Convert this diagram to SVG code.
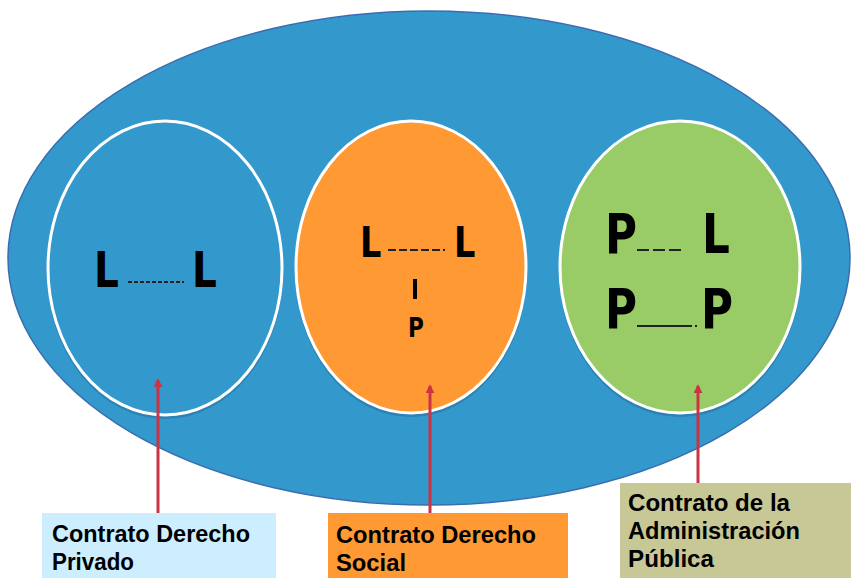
<svg xmlns="http://www.w3.org/2000/svg" width="851" height="578" viewBox="0 0 851 578">
  <style>
    .inner { stroke: #ffffff; stroke-width: 3; }
    .shadow { fill: #2b7fb0; opacity: 0.9; }
    .big { font-family: "DejaVu Sans", "Liberation Sans", sans-serif; font-weight: bold; fill: #000; }
    .lab { font-family: "Liberation Sans", "DejaVu Sans", sans-serif; font-weight: bold; font-size: 23px; fill: #000; }
    .conn { stroke: #cc3344; stroke-width: 3; fill: none; marker-end: url(#ah); }
    .dash { stroke: #222; stroke-width: 2; stroke-dasharray: 5 2; }
  </style>
  <defs>
    <marker id="ah" viewBox="0 0 10 10" refX="8" refY="5" markerWidth="3" markerHeight="3" orient="auto">
      <path d="M0,0 L10,5 L0,10 z" fill="#cc3344"/>
    </marker>
  </defs>
  <rect width="851" height="578" fill="#ffffff"/>

  <g id="outer">
    <ellipse cx="429" cy="258" rx="421" ry="247" fill="#3399cc" stroke="#3a6db0" stroke-width="1.5"/>
  </g>

  <g id="privado">
    <ellipse class="shadow" cx="165" cy="272" rx="118" ry="147"/>
    <ellipse class="inner" cx="165" cy="268" rx="117" ry="147" fill="#3399cc"/>
    <text class="big" transform="translate(94,287) scale(0.78,1)" font-size="50">L</text>
    <line class="dash" x1="128" y1="282" x2="184" y2="282" style="stroke-dasharray:4 2"/>
    <text class="big" transform="translate(192,287) scale(0.78,1)" font-size="50">L</text>
  </g>

  <g id="social">
    <ellipse class="shadow" cx="411" cy="271" rx="116" ry="146"/>
    <ellipse class="inner" cx="411" cy="267" rx="115" ry="146" fill="#ff9933"/>
    <text class="big" transform="translate(360,257) scale(0.78,1)" font-size="43">L</text>
    <line class="dash" x1="388" y1="250" x2="445" y2="250" style="stroke-dasharray:8 3"/>
    <text class="big" transform="translate(454,257) scale(0.78,1)" font-size="43">L</text>
    <rect x="413" y="279" width="4" height="20" fill="#000"/>
    <text class="big" transform="translate(408,337) scale(0.8,1)" font-size="27">P</text>
  </g>

  <g id="publica">
    <ellipse class="shadow" cx="680" cy="271" rx="121" ry="146"/>
    <ellipse class="inner" cx="680" cy="267" rx="120" ry="146" fill="#99cc66"/>
    <text class="big" transform="translate(605,253) scale(0.78,1)" font-size="56">P</text>
    <line class="dash" x1="637" y1="250" x2="684" y2="250" style="stroke-dasharray:12 4"/>
    <text class="big" transform="translate(702,253) scale(0.78,1)" font-size="56">L</text>
    <text class="big" transform="translate(605,328) scale(0.78,1)" font-size="56">P</text>
    <line x1="637" y1="326" x2="692" y2="326" stroke="#222" stroke-width="2"/>
    <rect x="695" y="325" width="2" height="2" fill="#222"/>
    <text class="big" transform="translate(701,328) scale(0.78,1)" font-size="56">P</text>
  </g>

  <g id="connectors">
    <line class="conn" x1="158" y1="515" x2="158" y2="380"/>
    <line class="conn" x1="430" y1="515" x2="430" y2="386"/>
    <line class="conn" x1="698" y1="484" x2="698" y2="386"/>
  </g>

  <g id="box-privado">
    <rect x="42" y="513" width="234" height="65" fill="#cceeff"/>
    <text class="lab" x="52" y="542" textLength="198" lengthAdjust="spacingAndGlyphs">Contrato Derecho</text>
    <text class="lab" x="52" y="570" textLength="82" lengthAdjust="spacingAndGlyphs">Privado</text>
  </g>

  <g id="box-social">
    <rect x="328" y="513" width="240" height="65" fill="#ff9933"/>
    <text class="lab" x="336" y="543" textLength="200" lengthAdjust="spacingAndGlyphs">Contrato Derecho</text>
    <text class="lab" x="336" y="571" textLength="70" lengthAdjust="spacingAndGlyphs">Social</text>
  </g>

  <g id="box-publica">
    <rect x="620" y="483" width="231" height="95" fill="#c8c896"/>
    <text class="lab" x="628" y="511" textLength="162" lengthAdjust="spacingAndGlyphs">Contrato de la</text>
    <text class="lab" x="628" y="539" textLength="172" lengthAdjust="spacingAndGlyphs">Administración</text>
    <text class="lab" x="628" y="567" textLength="86" lengthAdjust="spacingAndGlyphs">Pública</text>
  </g>
</svg>
